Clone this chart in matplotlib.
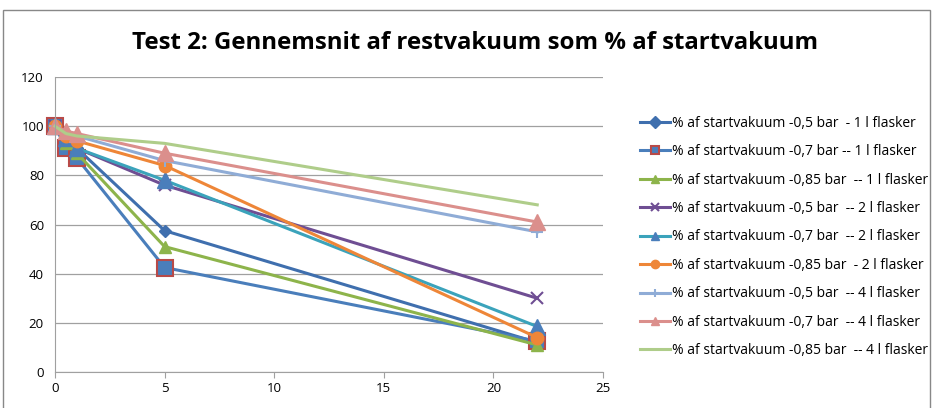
import matplotlib
matplotlib.use("Agg")
import matplotlib.pyplot as plt
from matplotlib.patches import Rectangle

x = [0, 0.5, 1, 5, 22]
labels = [
    "% af startvakuum -0,5 bar  - 1 l flasker",
    "% af startvakuum -0,7 bar -- 1 l flasker",
    "% af startvakuum -0,85 bar  -- 1 l flasker",
    "% af startvakuum -0,5 bar  -- 2 l flasker",
    "% af startvakuum -0,7 bar  -- 2 l flasker",
    "% af startvakuum -0,85 bar  - 2 l flasker",
    "% af startvakuum -0,5 bar  -- 4 l flasker",
    "% af startvakuum -0,7 bar  -- 4 l flasker",
    "% af startvakuum -0,85 bar  -- 4 l flasker",
]
s1 = [100, 95, 91, 57.5, 12]
s2 = [100, 91, 87, 42.5, 12.5]
s3 = [100, 93, 89, 51, 11]
s4 = [100, 95, 91, 76, 30]
s5 = [100, 95, 91, 78, 18.5]
s6 = [100, 96, 94, 84, 14]
s7 = [100, 97, 96, 86, 57]
s8 = [100, 98, 97, 89, 61]
s9 = [100, 97, 96, 93, 68]
series = [s1, s2, s3, s4, s5, s6, s7, s8, s9]

line_colors = ["#3F6FAE", "#4A7EBB", "#8DB44B", "#6F4E93", "#3BA3BB", "#EE8638",
               "#8FACD6", "#DB8F8C", "#AFCD8A"]
marker_face = ["#3F6FAE", "#4A7EBB", "#8DB44B", "#6F4E93", "#4A7EBB", "#EE8638",
               "#8FACD6", "#DB8F8C", "#AFCD8A"]
marker_edge = ["#3F6FAE", "#B84A48", "#8DB44B", "#6F4E93", "#4A7EBB", "#EE8638",
               "#8FACD6", "#DB8F8C", "#AFCD8A"]
markers = ["D", "s", "^", "x", "^", "o", "+", "^", None]
msizes = [6, 12, 8, 9, 12, 9, 9, 11, 0]

plt.rcParams['font.family'] = ['Open Sans', 'DejaVu Sans']

fig = plt.figure(figsize=(9.36, 4.08), dpi=100)
fig.patches.append(Rectangle((3/936, -0.05), 927/936, 1 - 10/408 + 0.05,
                             transform=fig.transFigure, fill=False,
                             edgecolor="#888888", linewidth=1.0))
ax = fig.add_axes([55/936, 36/408, 548/936, 295/408])

for i, ys in enumerate(series):
    ax.plot(x, ys, color=line_colors[i], linewidth=2.2,
            marker=markers[i], markersize=msizes[i],
            markerfacecolor=marker_face[i], markeredgecolor=marker_edge[i],
            markeredgewidth=1.5 if markers[i] in ("x", "+", "s") else 1.0,
            label=labels[i], clip_on=False)

ax.set_xlim(0, 25)
ax.set_ylim(0, 120)
ax.set_xticks([0, 5, 10, 15, 20, 25])
ax.set_yticks(range(0, 121, 20))
ax.yaxis.grid(True, color="#A0A0A0", linewidth=0.9)
ax.set_axisbelow(True)
for sp in ["top", "right"]:
    ax.spines[sp].set_visible(False)
for sp in ["left", "bottom"]:
    ax.spines[sp].set_color("#A0A0A0")
ax.tick_params(axis="both", labelsize=9.5, color="#A0A0A0", length=4)
ax.tick_params(axis="y", length=0, pad=8)

fig.text(0.508, 1 - 43/408, "Test 2: Gennemsnit af restvakuum som % af startvakuum",
         ha="center", va="center", fontsize=17.3, fontweight="bold")

leg = fig.legend(loc="upper left", bbox_to_anchor=(634/936, 1 - 110/408),
                 frameon=False, fontsize=10, handlelength=2.2,
                 labelspacing=0.97, handletextpad=0.15, borderaxespad=0)
for h in leg.legend_handles:
    h.set_markersize(6)

fig.savefig("out.png", dpi=100)
